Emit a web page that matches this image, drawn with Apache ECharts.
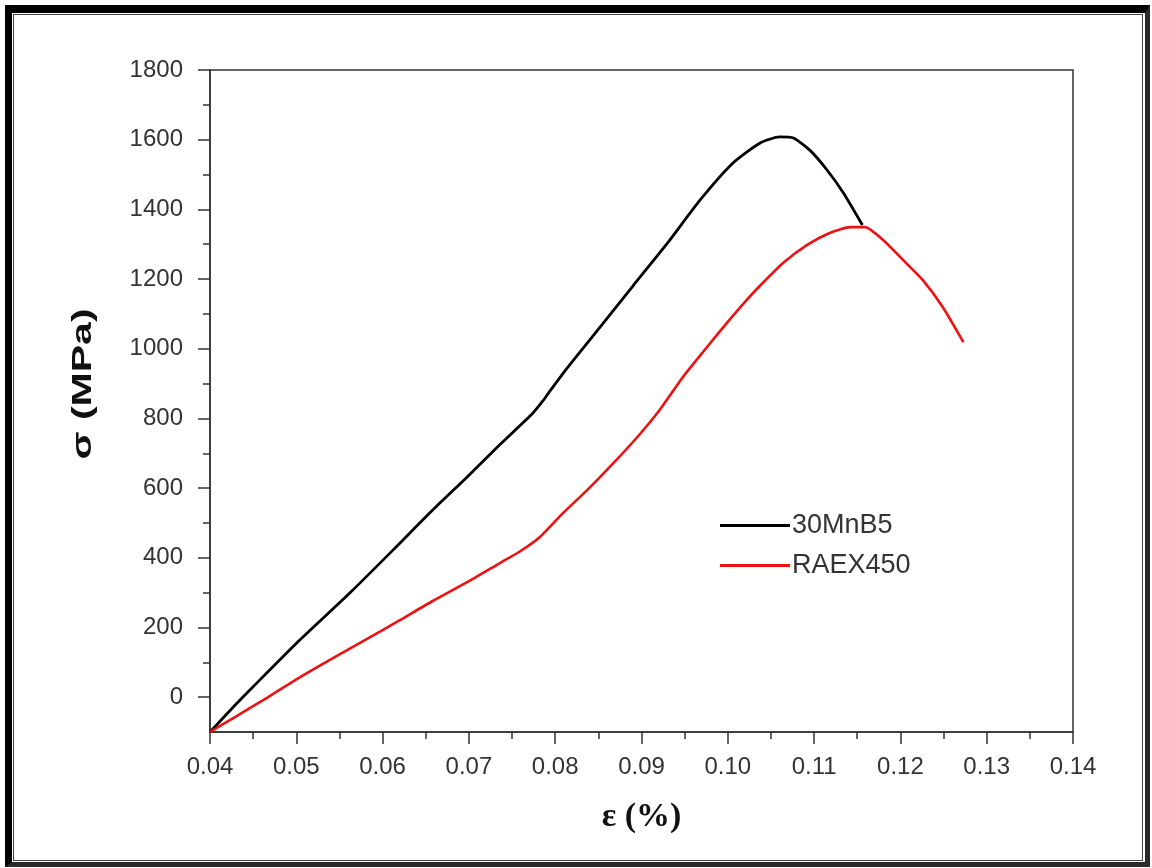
<!DOCTYPE html>
<html>
<head>
<meta charset="utf-8">
<script src="https://cdn.jsdelivr.net/npm/echarts@6/dist/echarts.min.js"></script>
<style>
  html, body { margin: 0; padding: 0; background: #fff; }
  #frameOuter { position: absolute; left: 5px; top: 5px; width: 1145px; height: 862px; box-sizing: border-box;
    border-top: 8px solid #000; border-left: 7px solid #000; border-right: 5px solid #2a2a2a; border-bottom: 5px solid #2a2a2a; }
  #frameInner { position: absolute; left: 13px; top: 14px; width: 1130px; height: 847px; box-sizing: border-box;
    border: 1.5px solid #444; }
  #chart { position: absolute; left: 0; top: 0; width: 1152px; height: 868px; }
</style>
</head>
<body>
<div id="frameOuter"></div>
<div id="frameInner"></div>
<div id="chart"></div>
<script>
// ---- data ----
const strain30MnB5 = [0.0400, 0.0427, 0.0450, 0.0504, 0.0562, 0.0612, 0.0658, 0.0698, 0.0736, 0.0774, 0.0785, 0.0792,
  0.0814, 0.0852, 0.0890, 0.0930, 0.0968, 0.1006, 0.1037, 0.1060, 0.1076, 0.1095, 0.1115, 0.1134, 0.1156];
const stress30MnB5 = [-100, -28, 30, 164, 299, 422, 537, 632, 725, 815, 848, 872,
  945, 1062, 1180, 1303, 1427, 1533, 1590, 1608, 1605, 1570, 1513, 1447, 1355];

const strainRAEX450 = [0.0400, 0.0427, 0.0466, 0.0504, 0.0543, 0.0582, 0.0620, 0.0658, 0.0698, 0.0736, 0.0759, 0.0782,
  0.0809, 0.0837, 0.0863, 0.0895, 0.0921, 0.0948, 0.0976, 0.0999, 0.1022, 0.1037, 0.1064, 0.1092, 0.1118, 0.1142,
  0.1159, 0.1180, 0.1203, 0.1226, 0.1249, 0.1273];
const stressRAEX450 = [-100, -60, -2, 57, 113, 167, 221, 276, 330, 385, 418, 459,
  528, 594, 660, 746, 824, 919, 1005, 1074, 1140, 1180, 1246, 1298, 1332, 1349,
  1349, 1312, 1255, 1197, 1120, 1019];

const seriesNames = ['30MnB5', 'RAEX450'];
const yMajorTicks = [0, 200, 400, 600, 800, 1000, 1200, 1400, 1600, 1800];
const yMinorTicks = [100, 300, 500, 700, 900, 1100, 1300, 1500, 1700];
const xTitle = 'ε (%)';
const yTitle = 'σ (MPa)';

function zip(xs, ys) { return xs.map((x, i) => [x, ys[i]]); }

const axisColor = '#333';
const labelFont = { color: '#333', fontSize: 24, fontFamily: 'Arial, "Liberation Sans", sans-serif' };

const chart = echarts.init(document.getElementById('chart'), null, { renderer: 'canvas' });
chart.setOption({
  animation: false,
  backgroundColor: 'transparent',
  grid: { left: 210, top: 70, right: 79, bottom: 136, show: true, borderColor: axisColor, borderWidth: 1.5, containLabel: false },
  xAxis: {
    type: 'value', min: 0.04, max: 0.14, interval: 0.01,
    name: xTitle, nameLocation: 'middle', nameGap: 68,
    nameTextStyle: { fontSize: 34, fontWeight: 'bold', color: '#111', fontFamily: '"Liberation Serif", "Times New Roman", serif' },
    axisLine: { show: true, onZero: false, lineStyle: { color: axisColor, width: 1.5 } },
    axisTick: { show: true, length: 12, lineStyle: { color: axisColor, width: 1.5 } },
    minorTick: { show: true, splitNumber: 2, length: 7, lineStyle: { color: axisColor, width: 1.5 } },
    axisLabel: Object.assign({ margin: 23, formatter: v => v.toFixed(2) }, labelFont),
    splitLine: { show: false }, minorSplitLine: { show: false }
  },
  yAxis: [{
    type: 'value', min: -100, max: 1800, interval: 100, position: 'left',
    axisLine: { show: true, onZero: false, lineStyle: { color: axisColor, width: 1.5 } },
    axisTick: { show: true, length: 12, customValues: yMajorTicks, lineStyle: { color: axisColor, width: 1.5 } },
    axisLabel: Object.assign({ margin: 27, customValues: yMajorTicks, formatter: v => String(v) }, labelFont),
    splitLine: { show: false }
  }, {
    type: 'value', min: -100, max: 1800, interval: 100, position: 'left',
    axisLine: { show: false },
    axisTick: { show: true, length: 7, customValues: yMinorTicks, lineStyle: { color: axisColor, width: 1.5 } },
    axisLabel: { show: false },
    splitLine: { show: false }
  }],
  legend: {
    orient: 'vertical', left: 715, top: 507, itemWidth: 70, itemHeight: 3, itemGap: 13,
    icon: 'rect', data: seriesNames,
    textStyle: { fontSize: 27, color: '#333', fontFamily: 'Arial, "Liberation Sans", sans-serif', padding: [0, 0, 0, -3] }
  },
  graphic: [{
    type: 'text', x: 84, y: 384, rotation: Math.PI / 2, scaleX: 1.52, scaleY: 1,
    style: { text: yTitle, fill: '#111', font: 'bold 27px Arial, "Liberation Sans", sans-serif', align: 'center', verticalAlign: 'middle' }
  }],
  series: [{
    name: seriesNames[0], type: 'line', data: zip(strain30MnB5, stress30MnB5),
    showSymbol: false, symbol: 'none', smooth: 0.2,
    lineStyle: { color: '#000', width: 2.8 }, itemStyle: { color: '#000' }
  }, {
    name: seriesNames[1], type: 'line', data: zip(strainRAEX450, stressRAEX450),
    showSymbol: false, symbol: 'none', smooth: 0.2,
    lineStyle: { color: '#ee1111', width: 2.6 }, itemStyle: { color: '#ee1111' }
  }]
});
</script>
</body>
</html>
